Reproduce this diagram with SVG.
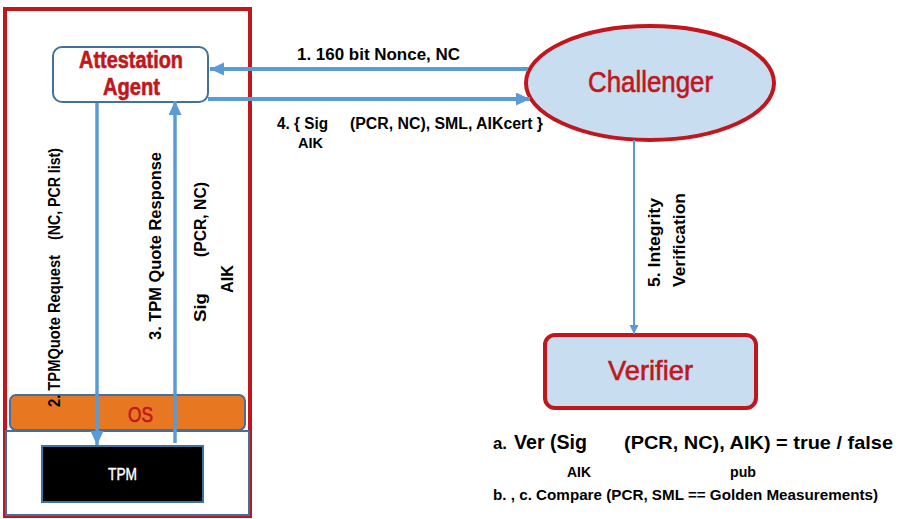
<svg xmlns="http://www.w3.org/2000/svg" width="903" height="519" viewBox="0 0 903 519">
<defs>
<style>
text{font-family:"Liberation Sans",Arial,sans-serif;}
.lbl{font-weight:bold;fill:#000;}
.red{fill:#c0161c;stroke:#c0161c;stroke-width:0.6;}
.conn{stroke:#5b9bd5;fill:none;}
</style>
<marker id="ah" markerUnits="userSpaceOnUse" markerWidth="15" markerHeight="14" refX="14" refY="6.5" orient="auto">
<path d="M0,0 L14,6.5 L0,13 z" fill="#5b9bd5"/>
</marker>
<marker id="ahs" markerUnits="userSpaceOnUse" markerWidth="10" markerHeight="10" refX="9" refY="4.5" orient="auto">
<path d="M0,0 L9,4.5 L0,9 z" fill="#5b9bd5"/>
</marker>
</defs>
<rect width="903" height="519" fill="#fff"/>

<g id="platform">
<rect x="5" y="9" width="245" height="507" fill="#fff" stroke="#c0161c" stroke-width="4"/>
</g>

<g id="os">
<rect x="10" y="395" width="235" height="35" rx="6" fill="#e87722" stroke="#41719c" stroke-width="2"/>
<text x="128" y="422" font-size="22" class="red" textLength="25" lengthAdjust="spacingAndGlyphs">OS</text>
</g>

<g id="hardware">
<rect x="6" y="431" width="243" height="84" fill="#fff" stroke="#41719c" stroke-width="2"/>
</g>

<g id="tpm">
<rect x="42" y="446" width="161" height="56" fill="#000" stroke="#41719c" stroke-width="2"/>
<text x="108" y="480" font-size="16" fill="#fff" stroke="#fff" stroke-width="0.4" textLength="29" lengthAdjust="spacingAndGlyphs">TPM</text>
</g>

<g id="agent">
<rect x="53" y="47" width="155" height="55" rx="9" fill="#fff" stroke="#41719c" stroke-width="2"/>
<text x="79" y="68" font-size="23" font-weight="bold" class="red" textLength="104" lengthAdjust="spacingAndGlyphs">Attestation</text>
<text x="103" y="95" font-size="23" font-weight="bold" class="red" textLength="57" lengthAdjust="spacingAndGlyphs">Agent</text>
</g>

<g id="challenger">
<ellipse cx="650" cy="83" rx="124" ry="57" fill="#c9ddf1" stroke="#c0161c" stroke-width="4"/>
<text x="588" y="92" font-size="29" class="red" textLength="125" lengthAdjust="spacingAndGlyphs">Challenger</text>
</g>

<g id="verifier">
<rect x="545" y="335" width="211" height="73" rx="10" fill="#c9ddf1" stroke="#c0161c" stroke-width="4"/>
<text x="608" y="380" font-size="28" class="red" textLength="85" lengthAdjust="spacingAndGlyphs">Verifier</text>
</g>

<g id="connectors">
<line class="conn" x1="528" y1="69" x2="210" y2="69" stroke-width="4" marker-end="url(#ah)"/>
<line class="conn" x1="208" y1="99" x2="530" y2="99" stroke-width="4" marker-end="url(#ah)"/>
<line class="conn" x1="97" y1="103" x2="97" y2="445" stroke-width="3.5" marker-end="url(#ah)"/>
<line class="conn" x1="175" y1="443" x2="175" y2="101" stroke-width="3.5" marker-end="url(#ah)"/>
<line class="conn" x1="634" y1="140" x2="634" y2="334" stroke-width="2" marker-end="url(#ahs)"/>
</g>

<g id="labels">
<text class="lbl" x="297" y="60" font-size="16" textLength="163" lengthAdjust="spacingAndGlyphs">1. 160 bit Nonce, NC</text>
<text class="lbl" x="277" y="129" font-size="16" textLength="51" lengthAdjust="spacingAndGlyphs">4. { Sig</text>
<text class="lbl" x="350" y="129" font-size="16" textLength="193" lengthAdjust="spacingAndGlyphs">(PCR, NC), SML,  AIKcert }</text>
<text class="lbl" x="298" y="148" font-size="15" textLength="25" lengthAdjust="spacingAndGlyphs">AIK</text>

<text class="lbl" transform="translate(60,407) rotate(-90)" font-size="16" textLength="152" lengthAdjust="spacingAndGlyphs">2. TPMQuote Request</text>
<text class="lbl" transform="translate(60,240) rotate(-90)" font-size="16" textLength="92" lengthAdjust="spacingAndGlyphs">(NC, PCR list)</text>
<text class="lbl" transform="translate(161,340) rotate(-90)" font-size="17" textLength="188" lengthAdjust="spacingAndGlyphs">3. TPM Quote Response</text>
<text class="lbl" transform="translate(206,322) rotate(-90)" font-size="17" textLength="29" lengthAdjust="spacingAndGlyphs">Sig</text>
<text class="lbl" transform="translate(206,257) rotate(-90)" font-size="17" textLength="75" lengthAdjust="spacingAndGlyphs">(PCR, NC)</text>
<text class="lbl" transform="translate(233,293) rotate(-90)" font-size="17" textLength="28" lengthAdjust="spacingAndGlyphs">AIK</text>

<text class="lbl" transform="translate(660,287) rotate(-90)" font-size="16" textLength="89" lengthAdjust="spacingAndGlyphs">5. Integrity</text>
<text class="lbl" transform="translate(685,287) rotate(-90)" font-size="16" textLength="94" lengthAdjust="spacingAndGlyphs">Verification</text>

<text class="lbl" x="493" y="449" font-size="16" textLength="14" lengthAdjust="spacingAndGlyphs">a.</text>
<text class="lbl" x="514" y="449" font-size="20" textLength="73" lengthAdjust="spacingAndGlyphs">Ver (Sig</text>
<text class="lbl" x="624" y="449" font-size="18.5" textLength="269" lengthAdjust="spacingAndGlyphs">(PCR, NC), AIK) = true / false</text>
<text class="lbl" x="567" y="477" font-size="14" textLength="24" lengthAdjust="spacingAndGlyphs">AIK</text>
<text class="lbl" x="730" y="477" font-size="14" textLength="26" lengthAdjust="spacingAndGlyphs">pub</text>
<text class="lbl" x="493" y="500" font-size="15" textLength="385" lengthAdjust="spacingAndGlyphs">b. , c.  Compare (PCR, SML == Golden Measurements)</text>
</g>
</svg>
